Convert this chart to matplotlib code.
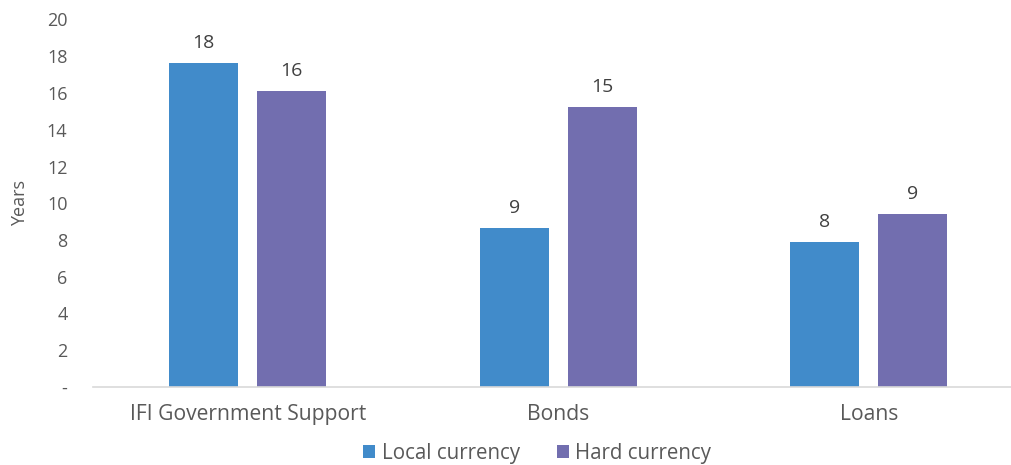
import matplotlib
matplotlib.use("Agg")
import matplotlib.pyplot as plt
import numpy as np

categories = ["IFI Government Support", "Bonds", "Loans"]
local_currency = [17.65, 8.64, 7.91]
hard_currency = [16.1, 15.22, 9.41]
series_names = ["Local currency", "Hard currency"]
colors = ["#418BCA", "#726EAF"]
yticks = [0, 2, 4, 6, 8, 10, 12, 14, 16, 18, 20]
ytick_labels = ["-"] + [str(v) for v in yticks[1:]]

plt.rcParams["font.family"] = ["Open Sans", "DejaVu Sans"]
text_color = "#595959"

W, H = 1011, 465
fig = plt.figure(figsize=(W / 100, H / 100), dpi=100)
ax_left, ax_width = 92.5, 918.5
ax = fig.add_axes([ax_left / W, 78 / H, ax_width / W, 367.5 / H])

x = np.arange(len(categories))
bw = 0.222
off = 0.1417
b1 = ax.bar(x - off, local_currency, bw, color=colors[0], label=series_names[0])
b2 = ax.bar(x + off, hard_currency, bw, color=colors[1], label=series_names[1])

for bars in (b1, b2):
    for r in bars:
        v = r.get_height()
        ax.annotate(f"{v:.0f}", (r.get_x() + r.get_width() / 2, v),
                    xytext=(0, 8), textcoords="offset points",
                    ha="center", va="bottom", fontsize=14, color="#404040")

ax.set_xlim(-0.5, 2.5 - 13 / 310.5)
ax.set_ylim(0, 20)
ax.set_yticks(yticks)
ax.set_yticklabels(ytick_labels)
ax.set_xticks(x)
ax.set_xticklabels(categories)
ax.tick_params(axis="y", length=0, pad=18, labelsize=13, labelcolor=text_color)
ax.tick_params(axis="x", length=0, pad=12, labelsize=15.2, labelcolor=text_color)

for s in ["top", "right", "left"]:
    ax.spines[s].set_visible(False)
ax.spines["bottom"].set_color("#D9D9D9")
ax.spines["bottom"].set_linewidth(1.2)

ax.set_ylabel("Years", fontsize=13, color=text_color)
ax.yaxis.set_label_coords((29 - ax_left) / ax_width, 0.5)

fig.legend(loc="center", bbox_to_anchor=(537 / W, 1 - 453 / H), ncol=2,
           frameon=False, fontsize=14.8, handlelength=0.6, handleheight=0.6,
           handletextpad=0.3, columnspacing=1.8, labelcolor=text_color)

fig.savefig("out.png", dpi=100)
